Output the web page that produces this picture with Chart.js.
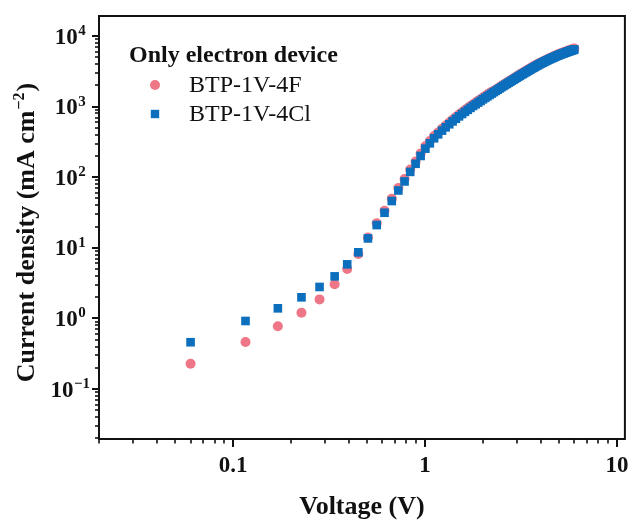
<!DOCTYPE html>
<html><head><meta charset="utf-8">
<script src="https://cdn.jsdelivr.net/npm/chart.js@4.4.0/dist/chart.umd.min.js"></script>
<style>html,body{margin:0;padding:0;background:#fff;}#wrap{width:631px;height:520px;}</style>
</head><body><div id="wrap"><canvas id="c" width="631" height="520"></canvas></div>
<script>
const voltage = [0.060,0.116,0.171,0.227,0.282,0.338,0.393,0.449,0.504,0.560,
0.615,0.671,0.726,0.782,0.837,0.893,0.948,1.004,1.059,1.115,
1.170,1.226,1.281,1.337,1.392,1.448,1.503,1.559,1.614,1.670,
1.725,1.781,1.836,1.892,1.947,2.003,2.058,2.114,2.169,2.225,
2.280,2.336,2.391,2.447,2.502,2.558,2.613,2.669,2.724,2.780,
2.835,2.891,2.946,3.002,3.057,3.113,3.168,3.224,3.279,3.335,
3.390,3.446,3.501,3.557,3.612,3.668,3.723,3.779,3.834,3.890,
3.945,4.001,4.056,4.112,4.167,4.223,4.278,4.334,4.389,4.445,
4.500,4.556,4.611,4.667,4.722,4.778,4.833,4.889,4.944,5.000,
5.055,5.111,5.166,5.222,5.277,5.333,5.388,5.444,5.499,5.555,
5.610,5.666,5.721,5.777,5.832,5.888,5.943,5.999];
const jF = [0.228,0.463,0.773,1.20,1.86,3.04,5.0,8.17,14.0,22.3,
33.5,49.7,70.1,94.1,128.5,167,216,274,326,384,
429,484,540,596,654,713,772,832,893,954,
1018,1082,1145,1208,1274,1344,1411,1481,1551,1623,
1664,1735,1808,1883,1959,2033,2109,2188,2265,2344,
2426,2506,2589,2673,2755,2838,2924,3007,3091,3177,
3258,3350,3436,3524,3614,3698,3785,3873,3963,4047,
4100,4186,4264,4344,4424,4506,4579,4665,4741,4829,
4896,4976,5045,5115,5186,5271,5344,5418,5481,5557,
5622,5687,5753,5810,5871,5934,5996,6056,6118,6180,
6242,6299,6355,6410,6464,6522,6576,6632];
const jCl = [0.46,0.92,1.39,1.99,2.79,3.94,5.83,8.63,13.6,21.0,
31.4,46.0,64.9,87.1,119,155,200,254,302,356,
405,457,509,562,617,673,728,785,842,900,
960,1021,1080,1140,1202,1268,1331,1397,1463,1531,
1600,1668,1738,1811,1884,1955,2028,2104,2178,2254,
2333,2410,2489,2570,2649,2729,2812,2891,2972,3055,
3133,3221,3304,3388,3475,3556,3639,3724,3811,3891,
3981,4064,4140,4217,4295,4375,4446,4529,4603,4688,
4753,4831,4898,4966,5035,5117,5188,5260,5321,5395,
5458,5521,5585,5641,5700,5761,5821,5880,5940,6000,
6060,6116,6170,6223,6276,6332,6384,6439];
const seriesNames = ['BTP-1V-4F', 'BTP-1V-4Cl'];
const legendTitle = 'Only electron device';
const xTickValues = [0.1, 1, 10];
const xTickLabels = ['0.1', '1', '10'];
const yTickExponents = [-1, 0, 1, 2, 3, 4];
const xTitle = 'Voltage (V)';
const yTitleParts = ['Current density (mA cm', '\u22122', ')'];

const PINK = '#ef7686';
const BLUE = '#0c6fbd';
const FONT = "'Liberation Serif', 'Times New Roman', serif";

const toPts = arr => voltage.map((v, i) => ({x: v, y: arr[i]}));

const deco = {
  id: 'deco',
  afterDraw(chart) {
    const ctx = chart.ctx, xs = chart.scales.x, ys = chart.scales.y, a = chart.chartArea;
    ctx.save();
    ctx.strokeStyle = '#111';
    ctx.fillStyle = '#111';
    // frame
    ctx.lineWidth = 2;
    ctx.strokeRect(a.left, a.top, a.right - a.left, a.bottom - a.top);
    // y ticks
    for (let e = -3; e <= 5; e++) for (let m = 1; m <= 9; m++) {
      const v = m * Math.pow(10, e);
      if (v < ys.min || v > ys.max) continue;
      const y = Math.round(ys.getPixelForValue(v));
      const len = m === 1 ? 7 : 4;
      ctx.lineWidth = m === 1 ? 2 : 1.6;
      ctx.beginPath(); ctx.moveTo(a.left, y); ctx.lineTo(a.left - len, y); ctx.stroke();
    }
    // x ticks
    for (let e = -3; e <= 2; e++) for (let m = 1; m <= 9; m++) {
      const v = m * Math.pow(10, e);
      if (v < xs.min || v > xs.max) continue;
      const x = Math.round(xs.getPixelForValue(v));
      const len = m === 1 ? 8 : 4.5;
      ctx.lineWidth = m === 1 ? 2 : 1.6;
      ctx.beginPath(); ctx.moveTo(x, a.bottom); ctx.lineTo(x, a.bottom + len); ctx.stroke();
    }
    // x tick labels
    ctx.font = 'bold 23px ' + FONT;
    ctx.textAlign = 'center'; ctx.textBaseline = 'alphabetic';
    xTickValues.forEach((v, i) => {
      ctx.fillText(xTickLabels[i], xs.getPixelForValue(v), a.bottom + 33);
    });
    // y tick labels 10^n
    yTickExponents.forEach(e => {
      const y = ys.getPixelForValue(Math.pow(10, e));
      const base = '10', sup = e < 0 ? '\u2212' + Math.abs(e) : String(e);
      ctx.font = 'bold 23px ' + FONT;
      const w1 = ctx.measureText(base).width;
      ctx.font = 'bold 15px ' + FONT;
      const w2 = ctx.measureText(sup).width;
      const cx = a.left - 29;
      const x0 = cx - (w1 + w2) / 2;
      ctx.textAlign = 'left';
      ctx.font = 'bold 23px ' + FONT;
      ctx.fillText(base, x0, y + 7.5);
      ctx.font = 'bold 15px ' + FONT;
      ctx.fillText(sup, x0 + w1 + 0.5, y - 1);
    });
    // x title
    ctx.font = 'bold 26px ' + FONT;
    ctx.textAlign = 'center';
    ctx.fillText(xTitle, (a.left + a.right) / 2, 514);
    // y title (rotated)
    ctx.save();
    ctx.translate(34, (a.top + a.bottom) / 2 + 6);
    ctx.rotate(-Math.PI / 2);
    ctx.textAlign = 'left';
    ctx.font = 'bold 26px ' + FONT;
    const t1 = ctx.measureText(yTitleParts[0]).width;
    const t3 = ctx.measureText(yTitleParts[2]).width;
    ctx.font = 'bold 16px ' + FONT;
    const t2 = ctx.measureText(yTitleParts[1]).width;
    let sx = -(t1 + t2 + t3) / 2;
    ctx.font = 'bold 26px ' + FONT;
    ctx.fillText(yTitleParts[0], sx, 0);
    ctx.font = 'bold 16px ' + FONT;
    ctx.fillText(yTitleParts[1], sx + t1 + 1, -10);
    ctx.font = 'bold 26px ' + FONT;
    ctx.fillText(yTitleParts[2], sx + t1 + t2 + 2, 0);
    ctx.restore();
    // legend
    ctx.textAlign = 'left';
    ctx.font = 'bold 24px ' + FONT;
    ctx.fillText(legendTitle, a.left + 30, a.top + 46);
    ctx.font = '24px ' + FONT;
    ctx.fillText(seriesNames[0], a.left + 90, a.top + 76);
    ctx.fillText(seriesNames[1], a.left + 90, a.top + 105);
    ctx.fillStyle = PINK;
    ctx.beginPath(); ctx.arc(a.left + 56, a.top + 69, 5, 0, Math.PI * 2); ctx.fill();
    ctx.fillStyle = BLUE;
    ctx.fillRect(a.left + 56 - 4.2, a.top + 98 - 4.2, 8.4, 8.4);
    ctx.restore();
  }
};

new Chart(document.getElementById('c'), {
  type: 'scatter',
  data: {
    datasets: [
      {label: seriesNames[0], data: toPts(jF), order: 2, pointStyle: 'circle', pointRadius: 5,
       backgroundColor: PINK, borderColor: PINK, pointBorderWidth: 0},
      {label: seriesNames[1], data: toPts(jCl), order: 1, pointStyle: 'rect', pointRadius: 6.1,
       backgroundColor: BLUE, borderColor: BLUE, pointBorderWidth: 0}
    ]
  },
  options: {
    responsive: false, animation: false, devicePixelRatio: 1,
    layout: {padding: {top: 16, right: 5, left: 0, bottom: 0}},
    plugins: {legend: {display: false}, tooltip: {enabled: false}},
    scales: {
      x: {type: 'logarithmic', min: 0.02, max: 11,
          grid: {display: false}, border: {display: false}, ticks: {display: false},
          afterFit(s) { s.height = 81; }},
      y: {type: 'logarithmic', min: 0.0196, max: 19200,
          grid: {display: false}, border: {display: false}, ticks: {display: false},
          afterFit(s) { s.width = 99; }}
    }
  },
  plugins: [deco]
});
</script>
</body></html>
